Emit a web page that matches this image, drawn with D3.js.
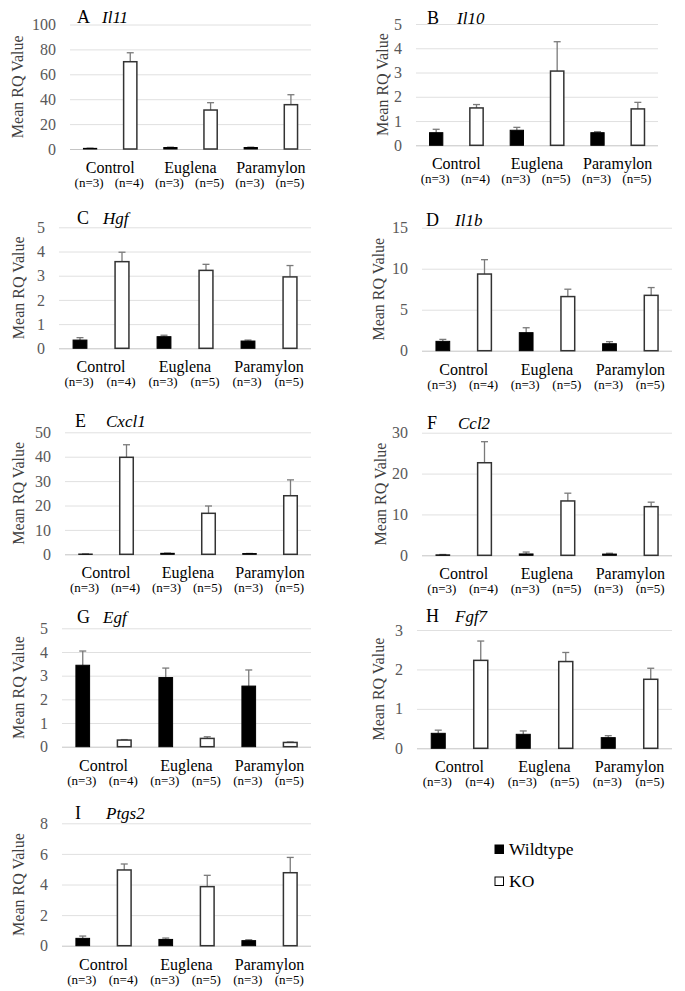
<!DOCTYPE html>
<html><head><meta charset="utf-8">
<script src="https://cdn.jsdelivr.net/npm/d3@7/dist/d3.min.js"></script>
</head><body style="margin:0;background:#fff">
<script>
// ---- data ----
const panelLetters = ["A","B","C","D","E","F","G","H","I"];
const genes = ["Il11","Il10","Hgf","Il1b","Cxcl1","Ccl2","Egf","Fgf7","Ptgs2"];
const groups = ["Control","Euglena","Paramylon"];
const series = ["Wildtype","KO"];
const wtN = ["(n=3)","(n=3)","(n=3)"];
const koN = ["(n=4)","(n=5)","(n=5)"];
const yMax = [100,5,5,15,50,30,5,3,8];
const yStep = [20,1,1,5,10,10,1,1,2];
const wtMean = [[0.5,1.2,1.2],[0.52,0.62,0.52],[0.34,0.48,0.30],[1.14,2.2,0.85],[0.1,0.4,0.3],[0.1,0.33,0.3],[3.44,2.92,2.56],[0.38,0.355,0.27],[0.48,0.41,0.33]];
const wtErr  = [[0.2,0.3,0.3],[0.14,0.12,0.04],[0.10,0.06,0.04],[0.24,0.6,0.25],[0.05,0.1,0.05],[0.1,0.47,0.2],[0.6,0.4,0.68],[0.08,0.085,0.05],[0.15,0.09,0.06]];
const koMean = [[70.1,31.3,35.6],[1.54,3.06,1.50],[3.58,3.22,2.95],[9.35,6.6,6.75],[39.75,16.8,24.0],[22.65,13.3,11.9],[0.28,0.35,0.18],[2.23,2.2,1.75],[4.95,3.86,4.77]];
const koErr  = [[7.2,5.9,8.0],[0.14,1.21,0.27],[0.39,0.25,0.47],[1.75,0.9,0.95],[5.15,3.0,6.5],[5.15,1.9,1.1],[0.02,0.07,0.02],[0.49,0.23,0.28],[0.39,0.74,1.0]];

// ---- layout (positions only) ----
const layout = [
  {l:70, r:311, t:24.5, b:149, lx:77, gx:102, ty:23, yx:17},
  {l:416,r:658, t:24,   b:145.3, lx:427, gx:457, ty:24, yx:382},
  {l:59, r:311, t:227.3,b:348.3, lx:77, gx:103, ty:224, yx:18},
  {l:422,r:672, t:227.7,b:350.7, lx:426, gx:455, ty:226, yx:378},
  {l:65, r:311, t:432.3,b:554.3, lx:75, gx:106, ty:427, yx:18},
  {l:422,r:672, t:432.7,b:555.3, lx:427, gx:458, ty:429, yx:380},
  {l:62, r:311, t:628.3,b:746.7, lx:77, gx:103, ty:623, yx:18},
  {l:417,r:672, t:630,  b:748.3, lx:426, gx:455, ty:622, yx:378},
  {l:62, r:311, t:823.3,b:945.7, lx:75, gx:106, ty:819, yx:18}
];
const FONT = '"Liberation Serif", "Times New Roman", Times, serif';

const svg = d3.select("body").append("svg").attr("width",685).attr("height",991).style("display","block");

panelLetters.forEach((letter,i)=>{
  const L = layout[i];
  const g = svg.append("g");
  const y = d3.scaleLinear().domain([0,yMax[i]]).range([L.b,L.t]);
  const x0 = d3.scaleBand().domain(groups).range([L.l,L.r]);
  const x1 = d3.scaleBand().domain(series).range([0,x0.bandwidth()]).paddingInner(0.67).paddingOuter(0.335);
  const ticks = d3.range(0,yMax[i]+yStep[i]/2,yStep[i]);

  const ax = g.append("g").attr("transform",`translate(${L.l},0)`)
    .call(d3.axisLeft(y).tickValues(ticks).tickSize(-(L.r-L.l)).tickPadding(14).tickFormat(d3.format("d")));
  ax.attr("font-family",null);
  ax.select(".domain").remove();
  ax.selectAll(".tick line").attr("stroke",d=>d===0?"#c4c4c4":"#e0e0e0").attr("stroke-width",1);
  ax.selectAll(".tick text").style("font-family",FONT).style("font-size","16px").attr("fill","#595959");

  const data = groups.map((grp,j)=>[
    {grp, s:"Wildtype", v:wtMean[i][j], e:wtErr[i][j], n:wtN[j]},
    {grp, s:"KO", v:koMean[i][j], e:koErr[i][j], n:koN[j]}
  ]).flat();

  const eb = g.append("g").attr("stroke","#7a7a7a").attr("stroke-width",1.3);
  data.forEach(d=>{
    const cx = x0(d.grp)+x1(d.s)+x1.bandwidth()/2;
    eb.append("line").attr("x1",cx).attr("x2",cx).attr("y1",y(d.v)).attr("y2",y(d.v+d.e));
    eb.append("line").attr("x1",cx-3.5).attr("x2",cx+3.5).attr("y1",y(d.v+d.e)).attr("y2",y(d.v+d.e));
  });

  g.selectAll("rect.bar").data(data).join("rect").attr("class","bar")
    .attr("x",d=>x0(d.grp)+x1(d.s))
    .attr("width",x1.bandwidth())
    .attr("y",d=>y(d.v))
    .attr("height",d=>y(0)-y(d.v))
    .attr("fill",d=>d.s==="Wildtype"?"#000":"#fff")
    .attr("stroke",d=>d.s==="Wildtype"?"#000":"#333").attr("stroke-width",d=>d.s==="Wildtype"?1:1.5);

  g.selectAll("text.cat").data(groups).join("text").attr("class","cat")
    .attr("x",d=>x0(d)+x0.bandwidth()/2).attr("y",L.b+24)
    .attr("text-anchor","middle").style("font-family",FONT).style("font-size","16px").attr("fill","#000").text(d=>d);
  g.selectAll("text.n").data(data).join("text").attr("class","n")
    .attr("x",d=>x0(d.grp)+x1(d.s)+x1.bandwidth()/2-1).attr("y",L.b+38)
    .attr("text-anchor","middle").style("font-family",FONT).style("font-size","13px").attr("fill","#000").text(d=>d.n);

  g.append("text").attr("transform",`translate(${L.yx},${(L.t+L.b)/2}) rotate(-90)`)
    .attr("dy","0.35em").attr("text-anchor","middle").style("font-family",FONT).style("font-size","16px").attr("fill","#404040").text("Mean RQ Value");

  g.append("text").attr("x",L.lx).attr("y",L.ty).style("font-family",FONT).style("font-size","18px").attr("fill","#000").text(letter);
  g.append("text").attr("x",L.gx).attr("y",L.ty).style("font-family",FONT).style("font-size","17px").style("font-style","italic").attr("fill","#000").text(genes[i]);
});

const lg = svg.append("g");
series.forEach((s,k)=>{
  const yy = 845 + k*32;
  lg.append("rect").attr("x",495).attr("y",yy).attr("width",8.5).attr("height",8.5)
    .attr("fill",k===0?"#000":"#fff").attr("stroke","#000").attr("stroke-width",1);
  lg.append("text").attr("x",509).attr("y",yy+9.5).style("font-family",FONT).style("font-size","17.5px").attr("fill","#000").text(s);
});
</script>
</body></html>
